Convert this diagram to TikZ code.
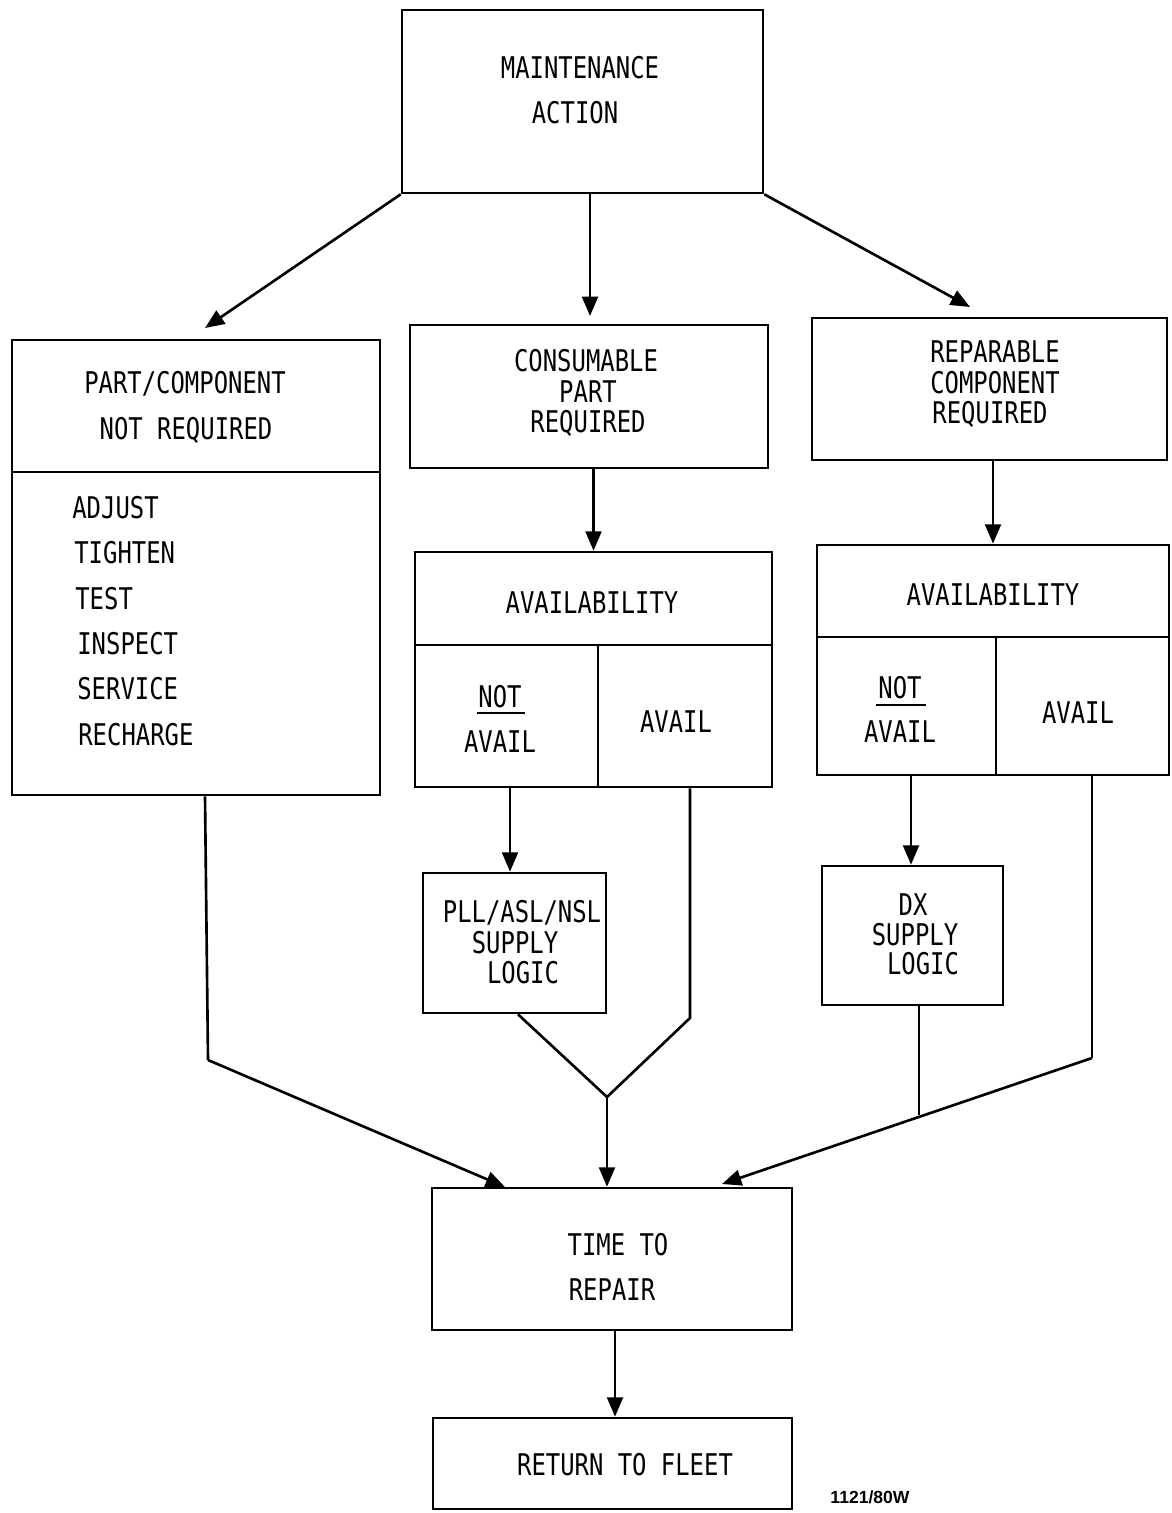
\documentclass[tikz,border=0pt]{standalone}
\usepackage{fontspec}
\newfontfamily\labfont[FakeStretch=0.8]{DejaVu Sans Mono}
\newfontfamily\tagfont{Liberation Sans}
\usetikzlibrary{arrows.meta}
\begin{document}
\begin{tikzpicture}[x=0.02cm,y=-0.02cm,
  box/.style={draw,line width=1.5pt,inner sep=0pt},
  lab/.style={font=\labfont\fontsize{17}{20}\selectfont,inner sep=0pt},
  conn/.style={line width=1.5pt},
  arr/.style={line width=1.5pt,-{Triangle[length=11pt,width=9pt]}}]
\useasboundingbox (0,0) rectangle (1171,1513);
% boxes
\node[box,minimum width=7.22cm,minimum height=3.66cm] (MA) at (582.5,101.5) {};
\node[box,minimum width=7.36cm,minimum height=9.1cm] (PART) at (196,567.5) {};
\node[box,minimum width=7.16cm,minimum height=2.86cm] (CONS) at (589,396.5) {};
\node[box,minimum width=7.14cm,minimum height=4.7cm] (AV1) at (593.5,669.5) {};
\node[box,minimum width=7.1cm,minimum height=2.84cm] (REP) at (989.5,389) {};
\node[box,minimum width=7.04cm,minimum height=4.6cm] (AV2) at (993,660) {};
\node[box,minimum width=3.66cm,minimum height=2.8cm] (PLL) at (514.5,943) {};
\node[box,minimum width=3.62cm,minimum height=2.78cm] (DX) at (912.5,935.5) {};
\node[box,minimum width=7.2cm,minimum height=2.84cm] (TTR) at (612,1259) {};
\node[box,minimum width=7.18cm,minimum height=1.82cm] (RTF) at (612.5,1463.5) {};
% dividers
\draw[conn] (PART.west |- 0,472) -- (PART.east |- 0,472);
\draw[conn] (AV1.west |- 0,645) -- (AV1.east |- 0,645);
\draw[conn] (598,645) -- (AV1.south -| 598,0);
\draw[conn] (AV2.west |- 0,637) -- (AV2.east |- 0,637);
\draw[conn] (996,637) -- (AV2.south -| 996,0);
% texts
\node[lab] (t1) at (580,68) {MAINTENANCE};
\node[lab] (t2) at (575,113) {ACTION};
\node[lab] (t3) at (185,384) {PART/COMPONENT};
\node[lab] (t4) at (186,430) {NOT REQUIRED};
\node[lab,anchor=west] (i1) at (72,508) {ADJUST};
\node[lab,anchor=west] (i2) at (74,553) {TIGHTEN};
\node[lab,anchor=west] (i3) at (75,599) {TEST};
\node[lab,anchor=west] (i4) at (77,644) {INSPECT};
\node[lab,anchor=west] (i5) at (77,689) {SERVICE};
\node[lab,anchor=west] (i6) at (78,735) {RECHARGE};
\node[lab] (c1) at (586,361) {CONSUMABLE};
\node[lab] (c2) at (588,392) {PART};
\node[lab] (c3) at (588,423) {REQUIRED};
\node[lab] (a1) at (592,603) {AVAILABILITY};
\node[lab] (a2) at (500,697) {NOT};
\draw[line width=1.2pt] (477,713) -- (525,713);
\node[lab] (a3) at (500,742) {AVAIL};
\node[lab] (a4) at (676,722) {AVAIL};
\node[lab] (r1) at (995,352) {REPARABLE};
\node[lab] (r2) at (995,383) {COMPONENT};
\node[lab] (r3) at (990,414) {REQUIRED};
\node[lab] (b1) at (993,595) {AVAILABILITY};
\node[lab] (b2) at (900,688) {NOT};
\draw[line width=1.2pt] (876,705) -- (926,705);
\node[lab] (b3) at (900,732) {AVAIL};
\node[lab] (b4) at (1078,713) {AVAIL};
\node[lab] (p1) at (522,913) {PLL/ASL/NSL};
\node[lab] (p2) at (515,943) {SUPPLY};
\node[lab] (p3) at (523,973) {LOGIC};
\node[lab] (d1) at (913,905) {DX};
\node[lab] (d2) at (915,935) {SUPPLY};
\node[lab] (d3) at (923,964) {LOGIC};
\node[lab] (m1) at (618,1245) {TIME TO};
\node[lab] (m2) at (612,1290) {REPAIR};
\node[lab] (f1) at (625,1465) {RETURN TO FLEET};
\node[font=\tagfont\bfseries\fontsize{10}{12}\selectfont,inner sep=0pt] (tag) at (870,1497) {1121/80W};
% connector coordinates
\coordinate (aL) at (205,328);
\coordinate (aC) at (590,316);
\coordinate (aR) at (970,307);
\coordinate (L1) at (208,1060);
\coordinate (LT) at (505,1187);
\coordinate (V1) at (690,1018);
\coordinate (J1) at (607,1097);
\coordinate (V2) at (1092,1058);
\coordinate (RT) at (722,1184);
\coordinate (J2) at (919,1115);
% connectors
\draw[arr] (MA.south west) -- (aL);
\draw[arr] (aC |- MA.south) -- (aC);
\draw[arr] (MA.south east) -- (aR);
\draw[arr] (CONS.south -| AV1.north) -- (AV1.north);
\draw[arr] (REP.south -| AV2.north) -- (AV2.north);
\draw[arr] (AV1.south -| 510,0) -- (PLL.north -| 510,0);
\draw[arr] (AV2.south -| 911,0) -- (DX.north -| 911,0);
\draw[conn] (PART.south -| 205,0) -- (L1);
\draw[arr] (L1) -- (LT);
\draw[conn] (AV1.south -| V1) -- (V1) -- (J1);
\draw[conn] (PLL.south -| 518,0) -- (J1);
\draw[arr] (J1) -- (TTR.north -| J1);
\draw[conn] (AV2.south -| V2) -- (V2);
\draw[arr] (V2) -- (RT);
\draw[conn] (DX.south -| J2) -- (J2);
\draw[arr] (TTR.south -| 615,0) -- (RTF.north -| 615,0);
\end{tikzpicture}
\end{document}
